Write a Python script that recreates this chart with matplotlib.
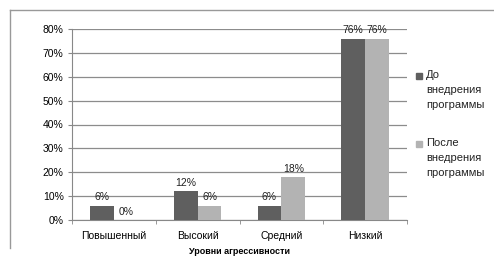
import matplotlib
matplotlib.use("Agg")
import matplotlib.pyplot as plt
import numpy as np
from matplotlib.lines import Line2D
from matplotlib.patches import Rectangle

# Data
categories = ["Повышенный", "Высокий", "Средний", "Низкий"]
before = [6, 12, 6, 76]
after = [0, 6, 18, 76]
series_names = ["До\nвнедрения\nпрограммы", "После\nвнедрения\nпрограммы"]

plt.rcParams['font.family'] = ['Liberation Sans', 'DejaVu Sans']

fig = plt.figure(figsize=(4.94, 2.59), dpi=100)
ax = fig.add_axes([72/494, 1-220/259, 335/494, 191/259])

x = np.arange(len(categories))
w = 0.285
dark = '#5f5f5f'
light = '#b3b3b3'
ax.bar(x - w/2, before, w, color=dark, zorder=3)
ax.bar(x + w/2, after, w, color=light, zorder=3)

for xs, vals in ((x - w/2, before), (x + w/2, after)):
    for xi, v in zip(xs, vals):
        ax.annotate(f"{v}%", (xi, v), xytext=(0, 2.5), textcoords='offset points',
                    ha='center', va='bottom', fontsize=7.5, color='#222222', zorder=4)

ax.set_xlim(-0.5, len(categories) - 0.5)
ax.set_ylim(0, 80)
ax.set_yticks(range(0, 81, 10))
ax.set_yticklabels([f"{t}%" for t in range(0, 81, 10)], fontsize=7.5)
ax.set_xticks(x)
ax.set_xticklabels(categories, fontsize=7.5)
ax.set_xticks(np.arange(-0.5, len(categories), 1), minor=True)
ax.tick_params(axis='x', which='major', length=0, pad=8)
ax.tick_params(axis='x', which='minor', length=3, color='#888888')
ax.tick_params(axis='y', length=3, color='#888888', pad=3)
ax.grid(axis='y', color='#8c8c8c', linewidth=0.9, zorder=0)
for s in ('top', 'right'):
    ax.spines[s].set_visible(False)
for s in ('left', 'bottom'):
    ax.spines[s].set_color('#888888')

ax.set_xlabel("Уровни агрессивности", fontsize=6.5, fontweight='bold', labelpad=4)

# legend: square aligned with the first line of each label
for color, name, ytop in ((dark, series_names[0], 73), (light, series_names[1], 141)):
    fig.add_artist(Rectangle((416/494, 1-(ytop+6)/259), 6/494, 6/259,
                             transform=fig.transFigure, color=color))
    fig.text(426/494, 1-(ytop-3)/259, name, fontsize=8, va='top', ha='left',
             linespacing=1.65, color='#222222')

# outer frame
fig.add_artist(Line2D([10/494, 1], [1-10/259, 1-10/259], color='#999999', lw=1))
fig.add_artist(Line2D([10/494, 10/494], [1-10/259, 1-248/259], color='#999999', lw=1))

fig.savefig("out.png", dpi=100)
